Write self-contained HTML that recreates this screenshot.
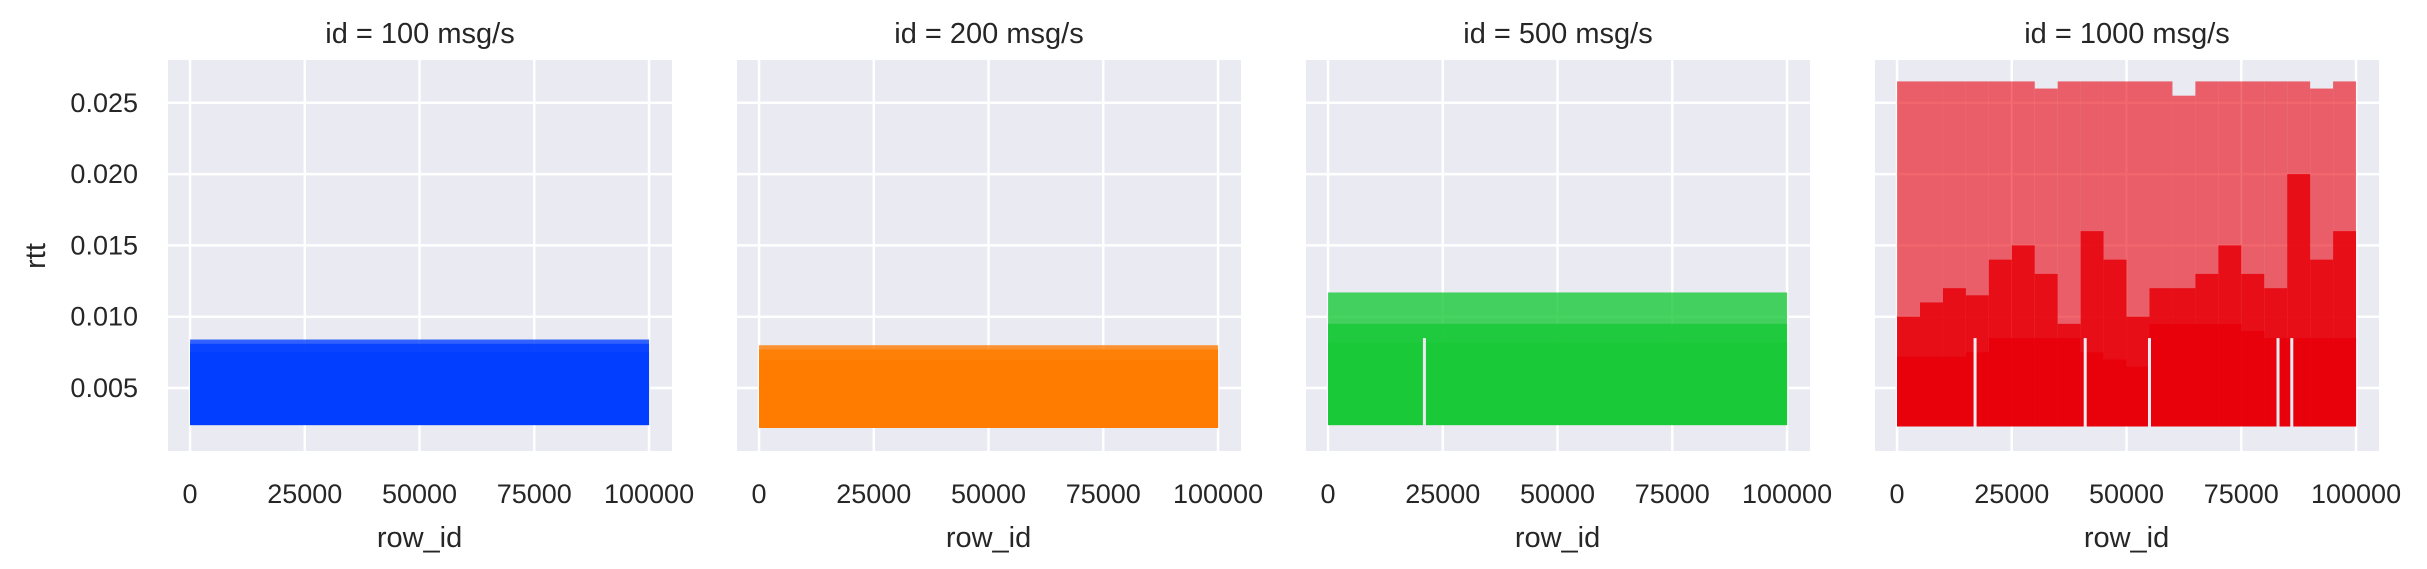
<!DOCTYPE html>
<html><head><meta charset="utf-8"><style>
html,body{margin:0;padding:0;background:#fff;}
svg{display:block;font-family:"Liberation Sans",Arial,sans-serif;}
</style></head><body>
<svg id="chart" width="2427" height="569" viewBox="0 0 2427 569" xmlns="http://www.w3.org/2000/svg"></svg>
<script>
const panelTitles = ["id = 100 msg/s","id = 200 msg/s","id = 500 msg/s","id = 1000 msg/s"];
const panelColors = ["#023eff","#ff7c00","#1ac938","#e8000b"];
const xTicks = [0,25000,50000,75000,100000];
const xTickLabels = ["0","25000","50000","75000","100000"];
const yTicks = [0.005,0.010,0.015,0.020,0.025];
const yTickLabels = ["0.005","0.010","0.015","0.020","0.025"];
const binWidth = 5000;
// per panel: bin lows, solid tops, mid tops, sparse tops
const lowVals = [[0.0024],[0.0022],[0.0024],
 [0.0023,0.0023,0.0023,0.0023,0.0023,0.0023,0.0023,0.0023,0.0023,0.0023,0.0023,0.0023,0.0023,0.0023,0.0023,0.0023,0.0023,0.0023,0.0023,0.0023]];
const solidVals = [[0.0075],[0.0070],[0.0082],
 [0.0072,0.0072,0.0072,0.0075,0.0085,0.0085,0.0085,0.0085,0.0075,0.0070,0.0065,0.0095,0.0095,0.0095,0.0095,0.0090,0.0085,0.0085,0.0085,0.0085]];
const midVals = [[0.0081],[0.0077],[0.0095],
 [0.0100,0.0110,0.0120,0.0115,0.0140,0.0150,0.0130,0.0095,0.0160,0.0140,0.0100,0.0120,0.0120,0.0130,0.0150,0.0130,0.0120,0.0200,0.0140,0.0160]];
const topVals = [[0.0084],[0.0080],[0.0117],
 [0.0265,0.0265,0.0265,0.0265,0.0265,0.0265,0.0260,0.0265,0.0265,0.0265,0.0265,0.0265,0.0255,0.0265,0.0265,0.0265,0.0265,0.0265,0.0260,0.0265]];
const gapRows = [[],[],[21000],[17000,41000,55000,83000,86000]];

const NS="http://www.w3.org/2000/svg";
const svg=document.getElementById('chart');
const plotW=504, plotTop=60, plotBottom=451, panelStep=569, firstLeft=168;
const xMin=-4800, xMax=105000;
function yScale(v){ return 388 - (v-0.005)/0.005*71.3; }
function mk(tag,attrs,parent){const e=document.createElementNS(NS,tag);for(const k in attrs)e.setAttribute(k,attrs[k]);(parent||svg).appendChild(e);return e;}

for(let p=0;p<4;p++){
  const left=firstLeft+p*panelStep;
  const xScale=v=>left+(v-xMin)/(xMax-xMin)*plotW;
  const g=mk('g',{});
  
  
  const bg=mk('rect',{x:left,y:plotTop,width:plotW,height:plotBottom-plotTop,fill:'#eaeaf2'},g);
  
  
  xTicks.forEach((t,i)=>{
    const gl=mk('line',{x1:xScale(t),x2:xScale(t),y1:plotTop,y2:plotBottom,stroke:'#fff','stroke-width':2.5},g);
    
    
    const tl=mk('text',{x:xScale(t),y:503,'text-anchor':'middle','font-size':27,fill:'#262626'},g);
    tl.textContent=xTickLabels[i];
    
    
  });
  yTicks.forEach((t,i)=>{
    const gl=mk('line',{x1:left,x2:left+plotW,y1:yScale(t),y2:yScale(t),stroke:'#fff','stroke-width':2.5},g);
    
    
    if(p===0){
      const tl=mk('text',{x:138,y:yScale(t)+9,'text-anchor':'end','font-size':27,fill:'#262626'},g);
      tl.textContent=yTickLabels[i];
      
      
    }
  });
  const col=panelColors[p];
  const nb=lowVals[p].length;
  const span = nb===1 ? 100000 : binWidth;
  const layers=[[topVals,nb===1?0.8:0.6,'scatter-sparse-band'],[midVals,0.85,'scatter-mid-band'],[solidVals,1,'scatter-dense-band']];
  layers.forEach(([arr,op,name])=>{
    const lg=mk('g',{'fill-opacity':op},g);
    
    
    for(let b=0;b<nb;b++){
      const x0=xScale(b*span), x1=xScale((b+1)*span);
      const lo=yScale(lowVals[p][b]);
      const hi=yScale(arr[p][b]);
      const r=mk('rect',{x:x0,y:hi,width:x1-x0,height:lo-hi,fill:col},lg);
      
      
    }
  });
  gapRows[p].forEach(gx=>{
    const gl=mk('rect',{x:xScale(gx)-1.5,y:yScale(0.0085),width:3,height:yScale(0.0022)-yScale(0.0085),fill:'#eaeaf2'},g);
    
    
  });
  const tt=mk('text',{x:left+plotW/2,y:43,'text-anchor':'middle','font-size':29,fill:'#262626'},g);
  tt.textContent=panelTitles[p];
  
  
  const xl=mk('text',{x:xScale(50000),y:547,'text-anchor':'middle','font-size':29,fill:'#262626'},g);
  xl.textContent='row_id';
  
  
}
const yl=mk('text',{x:0,y:0,'text-anchor':'middle','font-size':29,fill:'#262626',transform:'translate(45,256) rotate(-90)'});
yl.textContent='rtt';


</script>
</body></html>
